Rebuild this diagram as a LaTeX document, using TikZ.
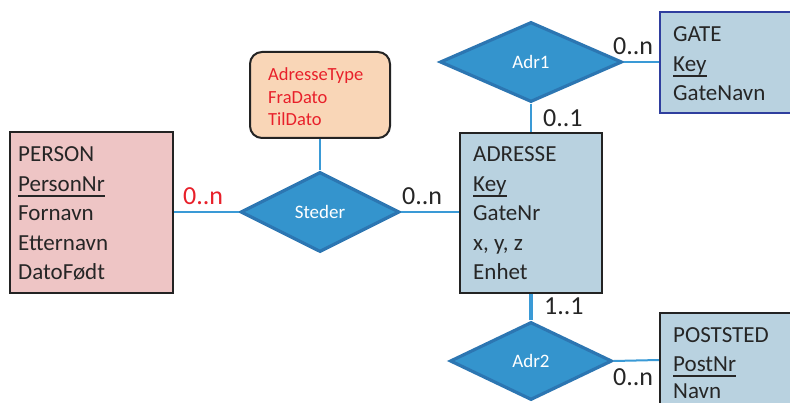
\documentclass[tikz,border=0pt]{standalone}
\usepackage{fontspec}
\setmainfont{Carlito}
\usetikzlibrary{shapes.geometric}
\definecolor{pinkfill}{RGB}{238,197,197}
\definecolor{peachfill}{RGB}{249,214,183}
\definecolor{boxblue}{RGB}{185,210,224}
\definecolor{dmfill}{RGB}{52,148,205}
\definecolor{dmborder}{RGB}{44,118,178}
\definecolor{conn}{RGB}{58,154,214}
\definecolor{redtext}{RGB}{232,32,42}
\definecolor{gateborder}{RGB}{47,62,158}
\definecolor{darkline}{RGB}{35,35,35}
\tikzset{
  entity/.style={draw=darkline, line width=2.2pt, rectangle, inner sep=0pt},
  relship/.style={diamond, draw=dmborder, fill=dmfill, line width=3.2pt, inner sep=0pt,
    text=white, font=\fontsize{19}{22}\selectfont},
  attrline/.style={anchor=base west, inner sep=0pt, font=\fontsize{23}{28}\selectfont, text=black!85},
  redattr/.style={anchor=base west, inner sep=0pt, font=\fontsize{18.5}{22}\selectfont, text=redtext},
  card/.style={anchor=base west, inner sep=0pt, font=\fontsize{26}{30}\selectfont, text=black!85},
  connector/.style={draw=conn, line width=2.3pt},
  keyline/.style={draw=black!85, line width=2pt}
}
\begin{document}
\begin{tikzpicture}[x=1pt,y=-1pt]
\clip (0,0) rectangle (790,403);
\fill[white] (0,0) rectangle (790,403);

% entities
\node[entity, fill=pinkfill, minimum width=163pt, minimum height=161pt] (person) at (91.5,212.5) {};
\node[entity, fill=boxblue, minimum width=142pt, minimum height=160pt] (adresse) at (531,213) {};
\node[entity, draw=gateborder, fill=boxblue, minimum width=140pt, minimum height=101pt] (gate) at (730,62.5) {};
\node[entity, fill=boxblue, minimum width=140pt, minimum height=110pt] (poststed) at (730,368) {};
\node[draw=darkline, line width=2pt, fill=peachfill, rounded corners=12pt, minimum width=140pt, minimum height=86pt, inner sep=0pt] (attr) at (320,95) {};

% relationships
\node[relship, minimum width=159pt, minimum height=80pt] (steder) at (320,212) {Steder};
\node[relship, minimum width=182pt, minimum height=80pt] (adr1) at (531,62) {Adr1};
\node[relship, minimum width=162pt, minimum height=78pt] (adr2) at (531,361) {Adr2};

% connectors
\draw[connector] (person.east |- steder.west) -- (steder.west);
\draw[connector] (steder.east) -- (adresse.west |- steder.east);
\draw[connector] (attr.south) -- (steder.north);
\draw[connector] (adr1.south) -- (adresse.north -| adr1.south);
\draw[connector] (adr1.east) -- (gate.west |- adr1.east);
\draw[connector, line width=4pt] (adresse.south -| adr2.north) -- (adr2.north);
\draw[connector, line width=2pt] (adr2.east) -- ([yshift=1pt]poststed.west |- adr2.east);

% PERSON attributes
\node[attrline] (p1) at (18,162) {PERSON};
\node[attrline] (p2) at (18,191.5) {PersonNr};
\node[attrline] (p3) at (18,221) {Fornavn};
\node[attrline] (p4) at (18,250.5) {Etternavn};
\node[attrline] (p5) at (18,280) {DatoFødt};
\draw[keyline] ([yshift=-4.5pt]p2.base west) -- ([yshift=-4.5pt]p2.base east);

% ADRESSE attributes
\node[attrline] (a1) at (473,162) {ADRESSE};
\node[attrline] (a2) at (473,191.5) {Key};
\node[attrline] (a3) at (473,221) {GateNr};
\node[attrline] (a4) at (473,250.5) {x, y, z};
\node[attrline] (a5) at (473,280) {Enhet};
\draw[keyline] ([yshift=-4.5pt]a2.base west) -- ([yshift=-4.5pt]a2.base east);

% GATE attributes
\node[attrline] (g1) at (673,42) {GATE};
\node[attrline] (g2) at (673,71.5) {Key};
\node[attrline] (g3) at (673,101) {GateNavn};
\draw[keyline] ([yshift=-4.5pt]g2.base west) -- ([yshift=-4.5pt]g2.base east);

% POSTSTED attributes
\node[attrline] (s1) at (673,342) {POSTSTED};
\node[attrline] (s2) at (673,371) {PostNr};
\node[attrline] (s3) at (673,398) {Navn};
\draw[keyline] ([yshift=-4.5pt]s2.base west) -- ([yshift=-4.5pt]s2.base east);

% relationship attributes
\node[redattr] (r1) at (268,81) {AdresseType};
\node[redattr] (r2) at (268,103.5) {FraDato};
\node[redattr] (r3) at (268,126) {TilDato};

% cardinalities
\node[card, text=redtext] (c1) at (183,205) {0..n};
\node[card] (c2) at (402,205) {0..n};
\node[card] (c3) at (543,126.5) {0..1};
\node[card] (c4) at (613,55) {0..n};
\node[card] (c5) at (544,315) {1..1};
\node[card] (c6) at (613,385) {0..n};
\end{tikzpicture}
\end{document}
